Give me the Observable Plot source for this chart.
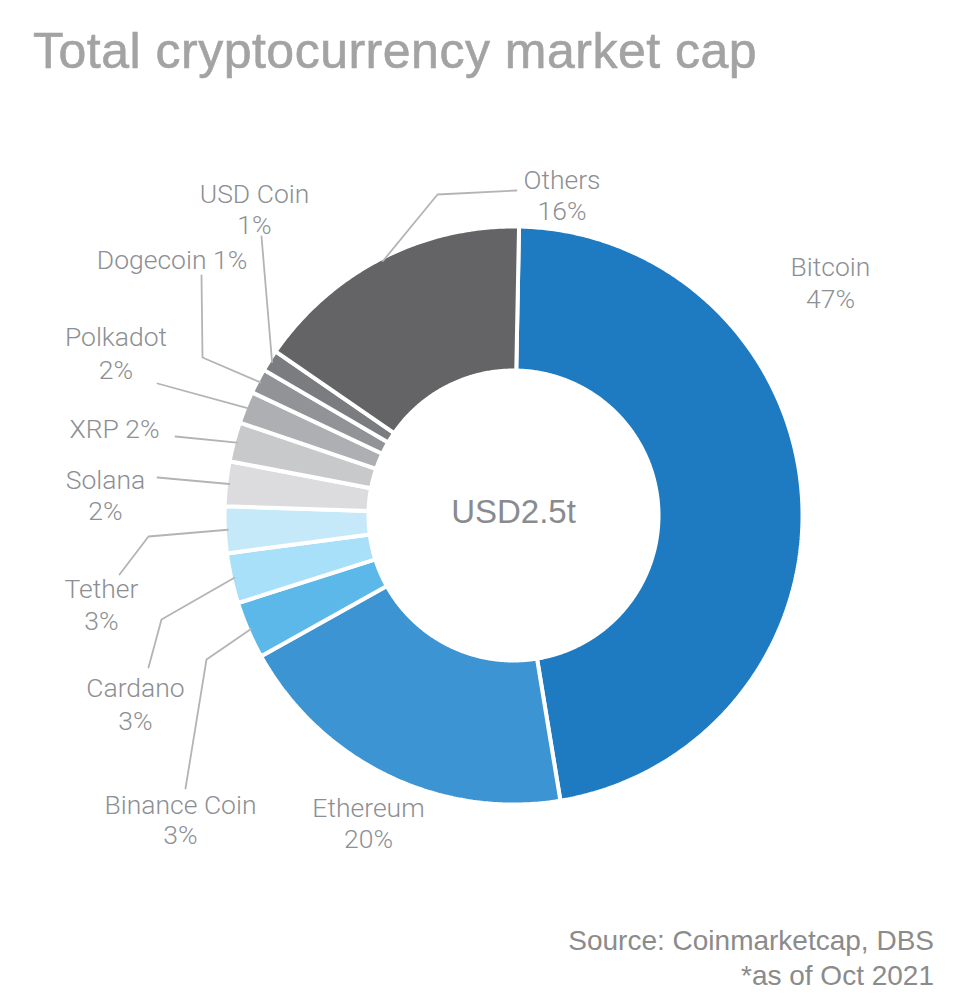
<!DOCTYPE html>
<html>
<head>
<meta charset="utf-8">
<script src="https://cdn.jsdelivr.net/npm/d3@7"></script>
<script src="https://cdn.jsdelivr.net/npm/@observablehq/plot@0.6"></script>
<style>
  html, body { margin: 0; padding: 0; background: #fff; }
  #wrap { position: relative; width: 968px; height: 1008px; overflow: hidden; }
  h1 { position: absolute; left: 33px; top: 26px; margin: 0; font: 400 50px "Liberation Sans", Arial, sans-serif; line-height: 50px; color: #a3a3a3; letter-spacing: 0.5px; white-space: nowrap; -webkit-text-stroke: 0.6px #a3a3a3; }
  #chart { position: absolute; left: 0; top: 100px; }
  #caption { position: absolute; right: 34px; top: 923px; text-align: right; font: 400 28px "Liberation Sans", Arial, sans-serif; line-height: 35px; color: #8b8b8b; }
</style>
</head>
<body>
<div id="wrap">
  <h1>Total cryptocurrency market cap</h1>
  <div id="chart"></div>
  <div id="caption">Source: Coinmarketcap, DBS<br>*as of Oct 2021</div>
</div>
<script>
// ---- data ----
const coins = ["Bitcoin", "Ethereum", "Binance Coin", "Cardano", "Tether", "Solana", "XRP", "Polkadot", "Dogecoin", "USD Coin", "Others"];
const shares = [47.1, 19.5, 3.2, 2.8, 2.6, 2.5, 2.2, 1.8, 1.4, 1.2, 15.7];
const shareLabels = ["47%", "20%", "3%", "3%", "3%", "2%", "2%", "2%", "1%", "1%", "16%"];
const sliceColors = ["#1f7bc1", "#3d94d3", "#5db8ea", "#a8e0f9", "#c6e9f9", "#dcdcde", "#c8c9cb", "#aeafb2", "#929396", "#7b7c7f", "#646466"];
const totalLabel = "USD2.5t";

// ---- layout (annotation placement, page pixels) ----
const CX = 513, CY = 515, R_OUT = 289, R_IN = 145;
const START = 1.1 * Math.PI / 180;
const labelLayout = {
  "Bitcoin":      {x: 830,   y: 275, lh: 32},
  "Ethereum":     {x: 368,   y: 816, lh: 31},
  "Binance Coin": {x: 180,   y: 813, lh: 30.5, path: [[185, 788], [206, 659]]},
  "Cardano":      {x: 135,   y: 696, lh: 33, path: [[148, 667], [161, 619]]},
  "Tether":       {x: 101,   y: 597, lh: 32, path: [[119, 574], [148, 536]]},
  "Solana":       {x: 105,   y: 488.5, lh: 30.5, path: [[157, 477]]},
  "XRP":          {x: 114,   y: 437, inline: true, path: [[175, 436]]},
  "Polkadot":     {x: 115.5, y: 345, lh: 33, path: [[157, 383]]},
  "Dogecoin":     {x: 171.5, y: 268, inline: true, path: [[201, 275], [202, 357]]},
  "USD Coin":     {x: 254,   y: 202.5, lh: 30.5, path: [[261, 236]]},
  "Others":       {x: 561.5, y: 188.5, lh: 30.5, path: [[516, 190], [437, 194]]}
};

// ---- geometry ----
const table = coins.map((coin, i) => ({coin, share: shares[i], label: shareLabels[i]}));
const arcs = d3.pie().sort(null).value(d => d.share).startAngle(START).endAngle(START + 2 * Math.PI)(table);
const polar = (a, r) => [CX + r * Math.sin(a), CY - r * Math.cos(a)];

const slicePoints = arcs.flatMap(a => {
  const n = Math.max(8, Math.ceil((a.endAngle - a.startAngle) / (Math.PI / 360)));
  const pts = [];
  for (let k = 0; k <= n; k++) {
    const [x, y] = polar(a.startAngle + (a.endAngle - a.startAngle) * k / n, R_OUT);
    pts.push({coin: a.data.coin, x, y});
  }
  for (let k = n; k >= 0; k--) {
    const [x, y] = polar(a.startAngle + (a.endAngle - a.startAngle) * k / n, R_IN);
    pts.push({coin: a.data.coin, x, y});
  }
  return pts;
});

const leaderPoints = arcs.flatMap(a => {
  const L = labelLayout[a.data.coin];
  if (!L.path) return [];
  const mid = (a.startAngle + a.endAngle) / 2;
  const end = polar(mid, R_OUT - 3);
  return [...L.path, end].map(([x, y]) => ({coin: a.data.coin, x, y}));
});

const textRows = table.flatMap(d => {
  const L = labelLayout[d.coin];
  if (L.inline) return [{x: L.x, y: L.y, text: `${d.coin} ${d.label}`}];
  return [{x: L.x, y: L.y, text: d.coin}, {x: L.x, y: L.y + L.lh, text: d.label}];
});

const chart = Plot.plot({
  width: 968,
  height: 780,
  margin: 0,
  x: {domain: [0, 968], range: [0, 968], axis: null},
  y: {domain: [100, 880], range: [0, 780], axis: null},
  color: {domain: coins, range: sliceColors},
  style: {background: "transparent", overflow: "visible"},
  marks: [
    Plot.line(slicePoints, {x: "x", y: "y", z: "coin", fill: "coin", stroke: "white", strokeWidth: 4, strokeLinejoin: "miter", curve: "linear-closed"}),
    Plot.line(leaderPoints, {x: "x", y: "y", z: "coin", stroke: "#b4b4b6", strokeWidth: 1.8}),
    Plot.text(textRows, {x: "x", y: "y", text: "text", lineAnchor: "bottom", textAnchor: "middle", fontSize: 26.5, fontWeight: 300, fontFamily: "Roboto, 'Liberation Sans', sans-serif", fill: "#8d8f93"}),
    Plot.text([totalLabel], {x: () => CX, y: () => CY + 7, text: d => d, lineAnchor: "bottom", textAnchor: "middle", fontSize: 33, fontFamily: "'Liberation Sans', Arial, sans-serif", fill: "#8a8b8f"})
  ]
});
document.getElementById("chart").append(chart);
</script>
</body>
</html>
